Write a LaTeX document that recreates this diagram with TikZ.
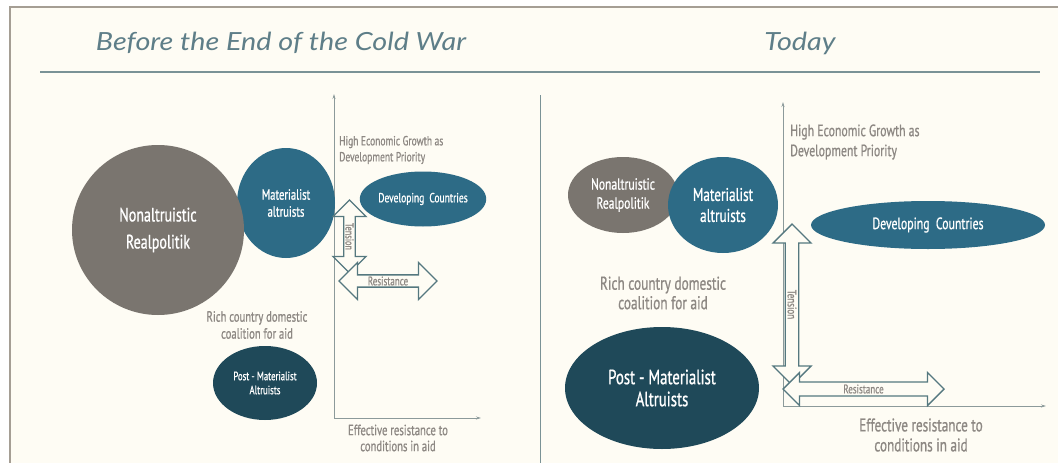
\documentclass[tikz,border=0pt]{standalone}
\usepackage{fontspec}
\usetikzlibrary{shapes.geometric,shapes.arrows,arrows.meta}
\setmainfont{PT Sans}
\newfontfamily\cond[FakeStretch=0.72,FakeBold=0.8]{PT Sans}
\newfontfamily\headfont[FakeStretch=1.15]{Lato}
\newcommand\setfs[2]{\fontsize{#1}{#2}\selectfont}

\definecolor{paper}{HTML}{FEFCF4}
\definecolor{seablue}{HTML}{2D6B86}
\definecolor{deepteal}{HTML}{1F4959}
\definecolor{stone}{HTML}{7A756F}
\definecolor{txtgray}{HTML}{8D8883}
\definecolor{headteal}{HTML}{5E7E88}
\definecolor{arrowline}{HTML}{55787F}
\definecolor{rulecol}{HTML}{7A9296}
\definecolor{framecol}{HTML}{A59E94}
\definecolor{axiscol}{HTML}{8C9A9A}

\tikzset{
  heading/.style={font=\headfont\itshape\setfs{25}{28}, text=headteal, inner sep=0},
  lbl/.style={text=txtgray, align=center, inner sep=0},
  blob/.style={ellipse, inner sep=0, text=white, align=center},
  darrow/.style={double arrow, draw=arrowline, fill=paper, line width=1.4pt,
    inner sep=0, text=txtgray, double arrow tip angle=90},
  axisline/.style={draw=axiscol, line width=0.8pt, {Stealth[length=5pt,width=3pt]}-{Stealth[length=5pt,width=3pt]}},
}

\begin{document}
\begin{tikzpicture}[x=1pt,y=-1pt]
\useasboundingbox (0,0) rectangle (1058,463);
\fill[white] (0,0) rectangle (1058,463);
\fill[paper] (10,7) rectangle (1058,463);
\draw[framecol, line width=2pt] (10,463) -- (10,7) -- (1058,7);

% headings and rules
\node[heading] (t1) at (281,43) {Before the End of the Cold War};
\node[heading] (t2) at (800,43) {Today};
\coordinate (ruleL) at (40,72);
\coordinate (ruleR) at (1040,72);
\draw[rulecol, line width=1.2pt] (ruleL) -- (ruleR);
\coordinate (divT) at (540,95);
\coordinate (divB) at (540,463);
\draw[rulecol, line width=1pt] (divT) -- (divB);

% ---------- left panel ----------
\coordinate (LO) at (334,418);
\coordinate (LY) at (334,94);
\coordinate (LX) at (481,418);
\draw[axisline] (LY) -- (LO) -- (LX);

\node[blob, fill=seablue, minimum width=98, minimum height=110,
  font=\cond\setfs{14.8}{17}] (LM) at (286,203) {Materialist\\altruists};
\node[blob, fill=stone, minimum width=172, minimum height=170,
  font=\cond\setfs{19.5}{27}] (LN) at (158,230) {Nonaltruistic\\Realpolitik};
\node[blob, fill=seablue, minimum width=121, minimum height=55,
  font=\cond\setfs{13.2}{15}] (LD) at (423,199) {Developing\ \ Countries};
\node[blob, fill=deepteal, minimum width=104, minimum height=74,
  font=\cond\setfs{12.1}{14}] (LP) at (265,383) {Post - Materialist\\Altruists};

\node[lbl, font=\cond\setfs{14.8}{17}] (LR) at (257,325) {Rich country domestic\\coalition for aid};
\node[lbl, anchor=west, align=left, font=\cond\setfs{13.2}{16}] (LH) at (339,150) {High Economic Growth as\\Development Priority};
\node[lbl, font=\cond\setfs{14.8}{16}] (LE) at (398,438) {Effective resistance to\\conditions in aid};

\node[darrow, rotate=-90, minimum height=73, minimum width=33,
  double arrow head extend=9, font=\cond\setfs{11.5}{12}] (LT) at (349.5,236.5) {Tension};
\node[darrow, minimum height=98, minimum width=37,
  double arrow head extend=10.5, font=\cond\setfs{12.5}{13}] (LS) at (388,281) {Resistance};

% ---------- right panel ----------
\coordinate (RO) at (783,406);
\coordinate (RY) at (783,102);
\coordinate (RX) at (1046,406);
\draw[axisline] (RY) -- (RO) -- (RX);

\node[blob, fill=stone, minimum width=110, minimum height=76,
  font=\cond\setfs{16.1}{19}] (RN) at (623,195) {Nonaltruistic\\Realpolitik};
\node[blob, fill=seablue, minimum width=110, minimum height=96,
  font=\cond\setfs{18.4}{21}] (RM) at (723,205) {Materialist\\altruists};
\node[blob, fill=seablue, minimum width=234, minimum height=48,
  font=\cond\setfs{16.4}{18}] (RD) at (928,225) {Developing\ \ Countries};
\node[blob, fill=deepteal, minimum width=194, minimum height=122,
  font=\cond\setfs{20.6}{22}] (RP) at (662,388) {Post - Materialist\\Altruists};

\node[lbl, font=\cond\setfs{18.5}{19.5}] (RR) at (663,293) {Rich country domestic\\coalition for aid};
\node[lbl, anchor=west, align=left, font=\cond\setfs{16.4}{20}] (RH) at (790,142) {High Economic Growth as\\Development Priority};
\node[lbl, font=\cond\setfs{18.3}{20}] (RE) at (921,435) {Effective resistance to\\conditions in aid};

\node[darrow, rotate=-90, minimum height=161, minimum width=38,
  double arrow head extend=9.5, font=\cond\setfs{12.5}{13}] (RT) at (792,304.5) {Tension};
\node[darrow, minimum height=161, minimum width=33,
  double arrow head extend=7, font=\cond\setfs{12.5}{13}] (RS) at (863.5,389) {Resistance};
\end{tikzpicture}
\end{document}
